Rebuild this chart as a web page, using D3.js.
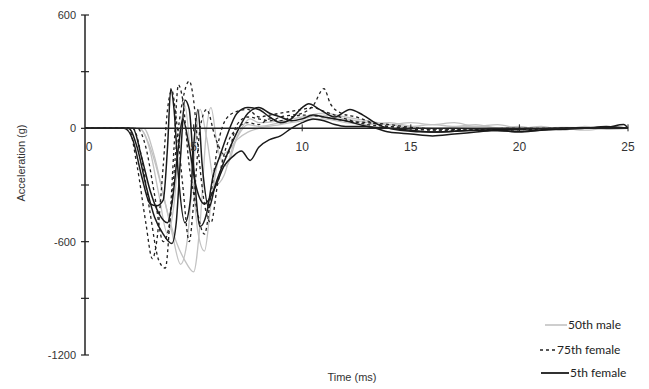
<!DOCTYPE html>
<html>
<head>
<meta charset="utf-8">
<script src="https://cdn.jsdelivr.net/npm/d3@7"></script>
<style>
  html, body { margin: 0; padding: 0; background: #fff; }
  svg { display: block; }
  text { font-family: "Liberation Sans", Arial, sans-serif; fill: #333; }
  .legend text { font-family: "Lato", "Open Sans", sans-serif; fill: #222; }
</style>
</head>
<body>
<svg id="chart" width="649" height="389"></svg>
<script>
// Acceleration traces, [time (ms), acceleration (g)]
const male50 = [
  [[0,0],[2.5,0],[3.0,-100],[3.5,-300],[4.0,-550],[4.4,-720],[4.7,-600],[5.0,-200],[5.3,100],[5.6,-50],[6.0,-300],[6.4,-250],[6.8,-100],[7.2,0],[7.6,50],[8,30],[9,40],[10,60],[11,80],[12,60],[13,40],[14,20],[15,10],[16,20],[17,10],[18,20],[19,0],[20,10],[21,-10],[22,0],[23,-10],[24,0],[25,0]],
  [[0,0],[2.7,0],[3.2,-150],[3.7,-400],[4.2,-600],[4.6,-700],[5.0,-760],[5.3,-500],[5.6,0],[5.8,110],[6.1,-100],[6.5,-200],[7,-50],[7.5,20],[8,10],[9,30],[10,50],[11,70],[12,50],[13,30],[14,20],[15,30],[16,20],[17,30],[18,10],[19,20],[20,0],[21,10],[22,-10],[23,10],[24,-5],[25,0]],
  [[0,0],[2.5,0],[3.0,-120],[3.4,-350],[3.8,-560],[4.1,-400],[4.4,0],[4.6,120],[4.9,-200],[5.2,-550],[5.5,-650],[5.8,-400],[6.2,-150],[6.6,-120],[7.0,-60],[7.5,-20],[8,0],[9,20],[10,40],[11,50],[12,30],[13,20],[14,30],[15,10],[16,0],[18,10],[20,-5],[22,5],[25,0]]
];
const female75 = [
  [[0,0],[2.0,0],[2.4,-200],[2.8,-500],[3.1,-690],[3.3,-600],[3.6,-200],[3.8,100],[4.0,200],[4.2,50],[4.5,-300],[4.8,-600],[5.0,-400],[5.3,0],[5.6,100],[6.0,-50],[6.5,-150],[7.0,20],[7.5,60],[8,50],[8.5,40],[9,60],[9.5,70],[10,80],[10.5,120],[11.0,210],[11.3,130],[11.8,80],[12.5,60],[13.5,20],[15,0],[17,-10],[20,-5],[23,0],[25,0]],
  [[0,0],[2.2,0],[2.6,-150],[3.0,-450],[3.4,-700],[3.7,-740],[3.9,-500],[4.1,-100],[4.3,230],[4.5,150],[4.8,-200],[5.1,-400],[5.5,-560],[5.8,-350],[6.1,-100],[6.5,50],[7,90],[7.5,100],[8,60],[8.5,70],[9,80],[9.5,90],[10,100],[10.5,110],[11,90],[11.5,70],[12,50],[13,20],[14,10],[16,-10],[19,-10],[22,0],[25,0]],
  [[0,0],[2.4,0],[2.8,-100],[3.2,-350],[3.6,-600],[3.9,-500],[4.2,-100],[4.5,150],[4.8,250],[5.0,150],[5.2,-100],[5.5,-400],[5.8,-500],[6.1,-300],[6.5,-100],[7,0],[7.5,30],[8,20],[8.5,50],[9,40],[9.5,60],[10,70],[11,60],[12,40],[13,30],[14,20],[15,5],[17,-5],[20,0],[25,0]]
];
const female5 = [
  [[0,0],[1.8,0],[2.2,-60],[2.6,-250],[3.0,-400],[3.3,-410],[3.6,-380],[3.8,-100],[3.95,210],[4.1,100],[4.3,-250],[4.6,-500],[4.85,-380],[5.0,-100],[5.2,100],[5.4,-200],[5.7,-420],[6.0,-300],[6.5,-150],[7.0,-20],[7.5,80],[8.0,110],[8.5,80],[9.0,60],[9.5,40],[10,50],[10.5,70],[11,60],[12,40],[13,10],[14,0],[15,-10],[16,-20],[18,-10],[20,-15],[22,0],[24,5],[24.8,20],[25,0]],
  [[0,0],[2.0,0],[2.4,-100],[2.8,-300],[3.2,-470],[3.6,-560],[4.0,-610],[4.2,-500],[4.4,-150],[4.6,150],[4.8,100],[5.0,-200],[5.3,-520],[5.6,-450],[5.9,-250],[6.2,-150],[6.5,-50],[7.0,80],[7.5,110],[8.0,100],[8.5,60],[9.0,30],[9.5,50],[10,110],[10.3,130],[10.8,100],[11.5,60],[12.2,100],[12.8,70],[13.5,20],[14.5,-10],[16,-20],[18,-10],[20,-5],[22,0],[24,5],[25,0]],
  [[0,0],[2.2,0],[2.6,-150],[3.0,-330],[3.4,-450],[3.8,-500],[4.0,-400],[4.3,-100],[4.5,50],[4.8,-100],[5.1,-300],[5.5,-400],[6.0,-310],[6.4,-200],[6.8,-150],[7.2,-120],[7.6,-170],[8.0,-100],[8.5,-60],[9.0,-40],[9.5,0],[10,30],[10.5,50],[11,40],[11.5,20],[12,10],[13,10],[14,-20],[15,-30],[16,-40],[17,-30],[18,-20],[19,-10],[20,-20],[21,-10],[22,-5],[23,0],[24,10],[25,0]]
];

const xTicks = [0, 5, 10, 15, 20, 25];
const yTicks = [600, 0, -600, -1200];
const yMinorTicks = [300, -300, -900];
const seriesNames = ["50th male", "75th female", "5th female"];

const svg = d3.select("#chart");

const x = d3.scaleLinear().domain([0, 25]).range([85, 628]);
const y = d3.scaleLinear().domain([-1200, 600]).range([355, 15]);

const line = d3.line()
  .x(d => x(d[0]))
  .y(d => y(d[1]))
  .curve(d3.curveMonotoneX);

const styles = [
  { data: male50, stroke: "#c2c2c2", width: 1.3, dash: null },
  { data: female75, stroke: "#222", width: 1.3, dash: "3,3" },
  { data: female5, stroke: "#1a1a1a", width: 1.5, dash: null }
];

// Traces
styles.forEach(s => {
  svg.append("g")
    .selectAll("path")
    .data(s.data)
    .join("path")
    .attr("d", line)
    .attr("fill", "none")
    .attr("stroke", s.stroke)
    .attr("stroke-width", s.width)
    .attr("stroke-dasharray", s.dash)
    .attr("stroke-linejoin", "round");
});

// Y axis (vertical line with crossing ticks)
const yAxis = svg.append("g").attr("transform", `translate(${x(0)},0)`);
yAxis.append("line")
  .attr("y1", y(600)).attr("y2", y(-1200))
  .attr("stroke", "#222").attr("stroke-width", 1.5);
yAxis.selectAll("line.tick")
  .data(yTicks.concat(yMinorTicks))
  .join("line")
  .attr("class", "tick")
  .attr("x1", -4).attr("x2", 4)
  .attr("y1", d => y(d)).attr("y2", d => y(d))
  .attr("stroke", "#222").attr("stroke-width", 1.2);
yAxis.selectAll("text")
  .data(yTicks)
  .join("text")
  .attr("x", -9)
  .attr("y", d => y(d) + 4)
  .attr("text-anchor", "end")
  .attr("font-size", 11)
  .text(d => d);

// X axis drawn along zero acceleration
const xAxis = svg.append("g").attr("transform", `translate(0,${y(0)})`);
xAxis.append("line")
  .attr("x1", x(0)).attr("x2", x(25))
  .attr("stroke", "#222").attr("stroke-width", 1.5);
xAxis.selectAll("line.tick")
  .data(xTicks.slice(1))
  .join("line")
  .attr("class", "tick")
  .attr("x1", d => x(d)).attr("x2", d => x(d))
  .attr("y1", -4).attr("y2", 3)
  .attr("stroke", "#222").attr("stroke-width", 1);
xAxis.selectAll("text")
  .data(xTicks)
  .join("text")
  .attr("x", d => d === 0 ? x(d) + 4 : x(d))
  .attr("y", 23)
  .attr("text-anchor", "middle")
  .attr("font-size", 12)
  .text(d => d);

// Axis titles
svg.append("text")
  .attr("transform", `translate(25,163) rotate(-90)`)
  .attr("text-anchor", "middle")
  .attr("font-size", 11)
  .text("Acceleration (g)");
svg.append("text")
  .attr("x", 352).attr("y", 381)
  .attr("text-anchor", "middle")
  .attr("font-size", 11)
  .text("Time (ms)");

// Legend
const legend = svg.append("g").attr("class", "legend");
const legendRows = [
  { name: seriesNames[0], y: 325, x1: 545, x2: 567, s: styles[0] },
  { name: seriesNames[1], y: 350, x1: 540, x2: 556, s: styles[1] },
  { name: seriesNames[2], y: 373, x1: 541, x2: 569, s: styles[2] }
];
legendRows.forEach(r => {
  legend.append("line")
    .attr("x1", r.x1).attr("x2", r.x2)
    .attr("y1", r.y).attr("y2", r.y)
    .attr("stroke", r.s.stroke)
    .attr("stroke-width", r.s.width + 0.3)
    .attr("stroke-dasharray", r.s.dash);
  legend.append("text")
    .attr("x", r.x2 + 1).attr("y", r.y + 4)
    .attr("font-size", 12)
    .text(r.name);
});
</script>
</body>
</html>
